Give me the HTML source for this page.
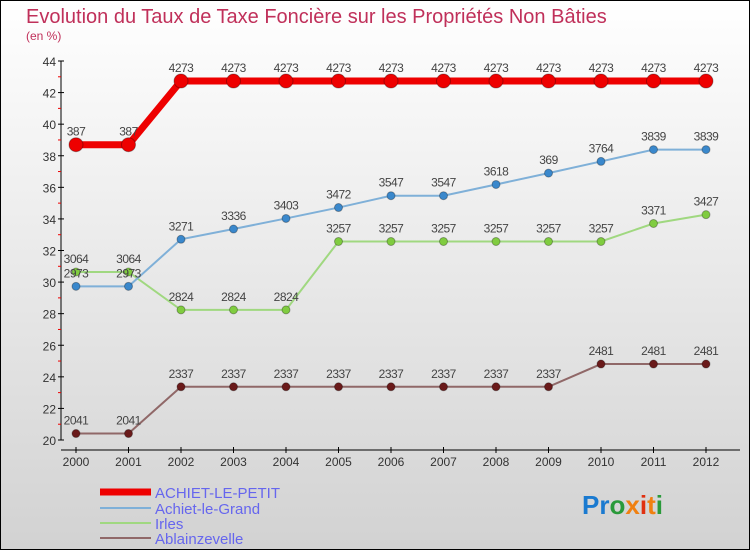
<!DOCTYPE html>
<html><head><meta charset="utf-8"><style>
body{margin:0;}
#c{width:750px;height:550px;position:relative;overflow:hidden;font-family:"Liberation Sans",sans-serif;}
</style></head><body>
<div id="c">
<svg id="s" width="750" height="550" xmlns="http://www.w3.org/2000/svg">
<defs><linearGradient id="bg" x1="0" y1="0" x2="0" y2="1"><stop offset="0" stop-color="#ffffff"/><stop offset="1" stop-color="#d2d2d2"/></linearGradient></defs>
<rect x="0.5" y="0.5" width="749" height="549" fill="url(#bg)" stroke="#000"/>
<text x="26" y="23" font-size="20" fill="#c0305a">Evolution du Taux de Taxe Foncière sur les Propriétés Non Bâties</text>
<text x="26" y="40" font-size="12" fill="#c0305a">(en %)</text>
<g id="axes"></g><g id="series"></g>
<g>
<line x1="100" y1="492" x2="151" y2="492" stroke="#ee0000" stroke-width="7"/>
<text x="155" y="498" font-size="15" fill="#6666ee">ACHIET-LE-PETIT</text>
<line x1="100" y1="508" x2="151" y2="508" stroke="#7fb0d8" stroke-width="2"/>
<text x="155" y="514" font-size="15" fill="#6666ee">Achiet-le-Grand</text>
<line x1="100" y1="523" x2="151" y2="523" stroke="#a0d880" stroke-width="2"/>
<text x="155" y="529" font-size="15" fill="#6666ee">Irles</text>
<line x1="100" y1="538" x2="151" y2="538" stroke="#906868" stroke-width="2"/>
<text x="155" y="544" font-size="15" fill="#6666ee">Ablainzevelle</text>
</g>
<text x="582" y="514" font-size="26" font-weight="bold"><tspan fill="#1a7ad0">Pr</tspan><tspan fill="#2a9a3a">o</tspan><tspan fill="#f08010">x</tspan><tspan fill="#e03010">i</tspan><tspan fill="#f08010">t</tspan><tspan fill="#2a9a3a">i</tspan></text>
</svg></div>
<script>
const years=["2000","2001","2002","2003","2004","2005","2006","2007","2008","2009","2010","2011","2012"];
const petit=[38.7,38.7,42.73,42.73,42.73,42.73,42.73,42.73,42.73,42.73,42.73,42.73,42.73];
const grand=[29.73,29.73,32.71,33.36,34.03,34.72,35.47,35.47,36.18,36.9,37.64,38.39,38.39];
const irles=[30.64,30.64,28.24,28.24,28.24,32.57,32.57,32.57,32.57,32.57,32.57,33.71,34.27];
const ablain=[20.41,20.41,23.37,23.37,23.37,23.37,23.37,23.37,23.37,23.37,24.81,24.81,24.81];
const yTicks=[20,22,24,26,28,30,32,34,36,38,40,42,44];
const NS="http://www.w3.org/2000/svg";
const X=i=>76+i*52.5, Y=v=>440-(v-20)*(379/24);
function mk(t,a,p){const e=document.createElementNS(NS,t);for(const k in a)e.setAttribute(k,a[k]);p.appendChild(e);return e;}
const ax=document.getElementById('axes');
let e=mk('line',{x1:61,y1:Y(44),x2:61,y2:Y(20),stroke:'#000'},ax);

e=mk('line',{x1:61,y1:450,x2:740,y2:450,stroke:'#000'},ax);

yTicks.forEach((v,i)=>{
 mk('line',{x1:58,y1:Y(v),x2:64,y2:Y(v),stroke:'#000'},ax);
 if(i<yTicks.length-1)mk('line',{x1:58,y1:Y(v+1),x2:61,y2:Y(v+1),stroke:'#e00'},ax);
 const t=mk('text',{x:56,y:Y(v)+5,'font-size':12,fill:'#333','text-anchor':'end'},ax);t.textContent=v;
 
});
years.forEach((y,i)=>{
 mk('line',{x1:X(i),y1:447,x2:X(i),y2:453,stroke:'#000'},ax);
 const t=mk('text',{x:X(i),y:466,'font-size':12,fill:'#333','text-anchor':'middle'},ax);t.textContent=y;
 
});
const sg=document.getElementById('series');
function draw(vals,name,lc,w,pc,r){
 const g=mk('g',{},sg);
 
 mk('polyline',{points:vals.map((v,i)=>X(i)+','+Y(v)).join(' '),fill:'none',stroke:lc,'stroke-width':w},g);
 vals.forEach((v,i)=>{
  const c=mk('circle',{cx:X(i),cy:Y(v),r:r,fill:pc,stroke:'rgba(0,0,0,0.3)'},g);
  
  const t=mk('text',{x:X(i),y:Y(v)-9,'font-size':12,fill:'#444','text-anchor':'middle','letter-spacing':'-0.5'},g);
  t.textContent=String(v).replace('.','');
  
 });
}
draw(ablain,'ablainzevelle','#906868',2,'#6a1a1a',4);
draw(irles,'irles','#a0d880',2,'#80cc40',4);
draw(grand,'achiet-le-grand','#7fb0d8',2,'#3a88cc',4);
draw(petit,'achiet-le-petit','#ee0000',7,'#ee0000',7);
</script>
</body></html>
